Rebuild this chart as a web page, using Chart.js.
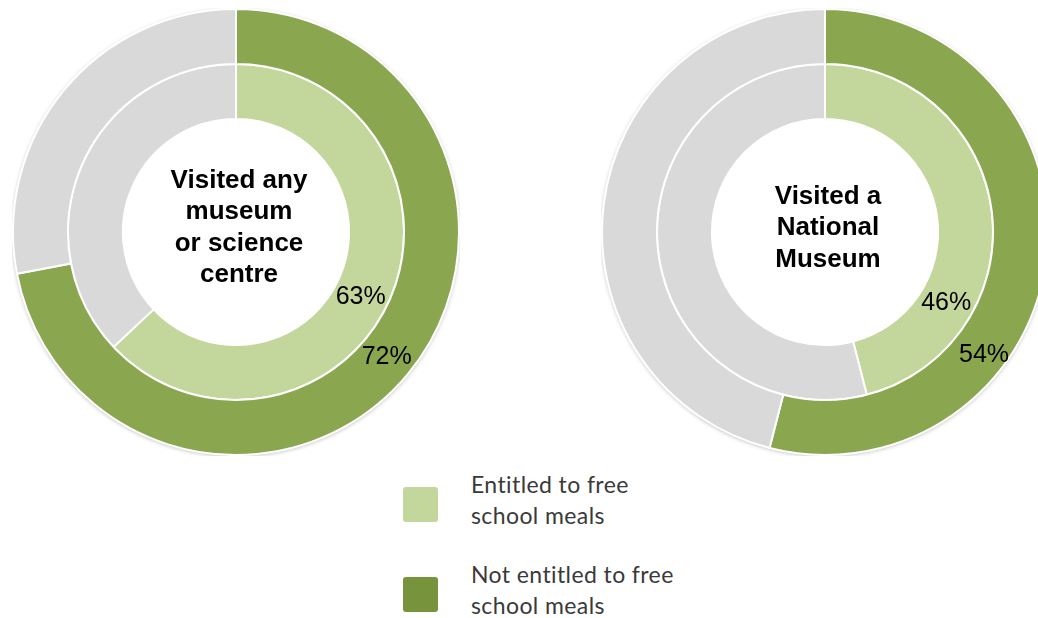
<!DOCTYPE html>
<html>
<head>
<meta charset="utf-8">
<script src="https://cdn.jsdelivr.net/npm/chart.js@4"></script>
<style>
  html, body { margin: 0; padding: 0; background: #fff; overflow: hidden; }
  body { width: 1038px; height: 618px; position: relative; }
  .ring { position: absolute; top: 8px; width: 448px; height: 448px; }
  #left { left: 12px; }
  #right { left: 601px; }
  .legend { position: absolute; left: 403px; font-family: Lato, "Open Sans", sans-serif; font-size: 23px; letter-spacing: 0.4px; color: #3a3a3a; line-height: 31px; }
  .legend .sw { position: absolute; left: 0; width: 35px; height: 35px; border-radius: 3px; }
  .legend .txt { position: absolute; left: 68px; white-space: nowrap; }
</style>
</head>
<body>
<div class="ring" id="left"><canvas id="c1" width="448" height="448"></canvas></div>
<div class="ring" id="right"><canvas id="c2" width="448" height="448"></canvas></div>

<div class="legend" style="top:487px">
  <div class="sw" style="background:#c3d69b"></div>
  <div class="txt" style="top:-18px">Entitled to free<br>school meals</div>
</div>
<div class="legend" style="top:577px">
  <div class="sw" style="background:#77933c"></div>
  <div class="txt" style="top:-18px">Not entitled to free<br>school meals</div>
</div>

<script>
// one doughnut per measure
const titles = [
  ["Visited any", "museum", "or science", "centre"],
  ["Visited a", "National", "Museum"]
];
const seriesNames = ["Entitled to free school meals", "Not entitled to free school meals"];
const entitled = [63, 46];      // inner ring, %
const notEntitled = [72, 54];   // outer ring, %

const darkGreen = "#8aa74f";
const lightGreen = "#c3d69b";
const grey = "#d9d9d9";

// where the % labels sit: angle in degrees clockwise from top, position across the ring (0..1)
const labelSpots = [
  { outer: [129.6, 0.5], inner: [117.5, 0.5] },
  { outer: [127.7, 0.6], inner: [120.4, 0.5] }
];

const ringText = {
  id: "ringText",
  beforeDatasetsDraw(chart) {
    // soft shadow round the outer ring
    const arc = chart.getDatasetMeta(0).data[0];
    const ctx = chart.ctx;
    ctx.save();
    ctx.shadowColor = "rgba(0,0,0,0.3)";
    ctx.shadowBlur = 4;
    ctx.shadowOffsetY = 1;
    ctx.fillStyle = "#fff";
    ctx.beginPath();
    ctx.arc(arc.x, arc.y, arc.outerRadius, 0, Math.PI * 2);
    ctx.fill();
    ctx.restore();
  },
  afterDatasetsDraw(chart, args, opts) {
    const ctx = chart.ctx;
    ctx.save();
    ctx.fillStyle = "#000";
    ctx.textAlign = "center";
    ctx.textBaseline = "middle";

    // percentage labels on the green arcs
    chart.data.datasets.forEach((ds, i) => {
      const arc = chart.getDatasetMeta(i).data[0];
      const p = arc.getProps(["x", "y", "innerRadius", "outerRadius"], true);
      const spot = i === 0 ? opts.spots.outer : opts.spots.inner;
      const a = (spot[0] - 90) * Math.PI / 180;
      const r = p.innerRadius + (p.outerRadius - p.innerRadius) * spot[1];
      ctx.font = "25px 'Liberation Sans', Arial, sans-serif";
      ctx.fillText(ds.data[0] + "%", p.x + r * Math.cos(a), p.y + r * Math.sin(a));
    });

    // title in the hole
    const c = chart.getDatasetMeta(0).data[0];
    const lines = opts.title;
    const lh = 31.5;
    ctx.font = "bold 26px 'Liberation Sans', Arial, sans-serif";
    lines.forEach((ln, k) => {
      ctx.fillText(ln, c.x + 3, c.y - 4 + (k - (lines.length - 1) / 2) * lh);
    });
    ctx.restore();
  }
};

function makeRing(id, idx) {
  new Chart(document.getElementById(id), {
    type: "doughnut",
    data: {
      labels: ["yes", "no"],
      datasets: [
        {
          label: seriesNames[1],
          data: [notEntitled[idx], 100 - notEntitled[idx]],
          backgroundColor: [darkGreen, grey],
          borderColor: "#fff",
          borderWidth: 2
        },
        {
          label: seriesNames[0],
          data: [entitled[idx], 100 - entitled[idx]],
          backgroundColor: [lightGreen, grey],
          borderColor: "#fff",
          borderWidth: 2
        }
      ]
    },
    options: {
      responsive: false,
      animation: false,
      cutout: "50.7%",
      layout: { padding: 0 },
      plugins: {
        legend: { display: false },
        tooltip: { enabled: false },
        ringText: { title: titles[idx], spots: labelSpots[idx] }
      }
    },
    plugins: [ringText]
  });
}

makeRing("c1", 0);
makeRing("c2", 1);
</script>
</body>
</html>
